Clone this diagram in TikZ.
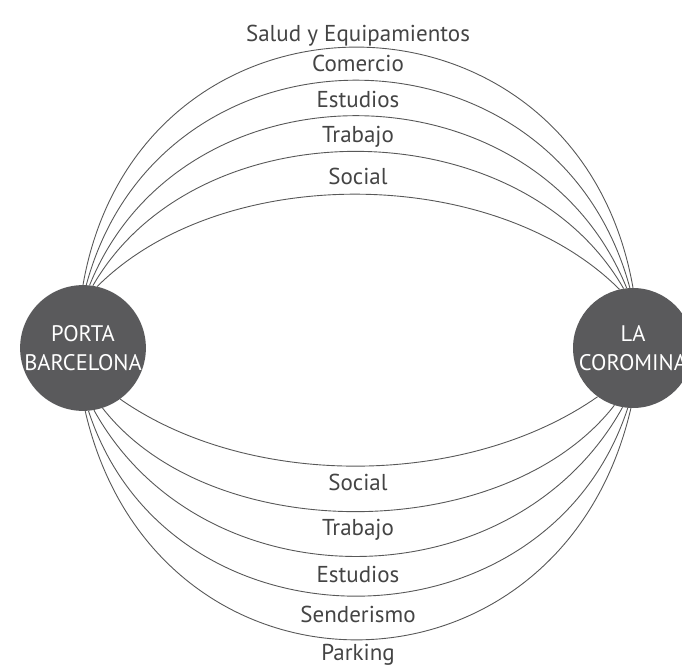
\documentclass[tikz,border=0pt]{standalone}
\usepackage{fontspec}
\setmainfont{PT Sans}
\usepackage{xcolor}
\usetikzlibrary{positioning}

\definecolor{hubgray}{HTML}{5A5A5C}
\definecolor{linkgray}{HTML}{585858}
\definecolor{labelgray}{HTML}{444444}

\tikzset{
    hub/.style={circle, fill=hubgray, minimum size=120pt, inner sep=0pt,
        text=white, align=center, font=\fontsize{22.5}{29}\selectfont},
    link/.style={draw=linkgray, line width=0.9pt},
    purpose/.style={anchor=base, inner sep=0pt, text=labelgray,
        font=\fontsize{23}{26}\selectfont}
}

\begin{document}
\begin{tikzpicture}[x=1pt, y=-1pt]
    \useasboundingbox (0,0) rectangle (682,671);

    % the two neighbourhoods
    \node[hub] (pb) at (83,348) {PORTA\\BARCELONA};
    \node[hub] (lc) at (633,348) {LA\\COROMINA};

    % trips over the top
    \draw[link] (pb.90) .. controls +(56,-319) and +(-56,-319) .. (lc.90);
    \draw[link] (pb.87) .. controls +(74,-275) and +(-74,-275) .. (lc.93);
    \draw[link] (pb.84) .. controls +(92,-228) and +(-92,-228) .. (lc.96);
    \draw[link] (pb.81) .. controls +(104,-181) and +(-104,-181) .. (lc.99);
    \draw[link] (pb.77) .. controls +(125,-125) and +(-125,-125) .. (lc.103);

    \node[purpose] (up1) at (358,42) {Salud y Equipamientos};
    \node[purpose] (up2) at (358,72) {Comercio};
    \node[purpose] (up3) at (358,108) {Estudios};
    \node[purpose] (up4) at (358,143) {Trabajo};
    \node[purpose] (up5) at (358,185) {Social};

    % trips underneath
    \draw[link] (pb.-54) .. controls +(130,91) and +(-130,91) .. (lc.-126);
    \draw[link] (pb.-72) .. controls +(109,140) and +(-109,140) .. (lc.-108);
    \draw[link] (pb.-80) .. controls +(109,197) and +(-109,197) .. (lc.-100);
    \draw[link] (pb.-85) .. controls +(81,249) and +(-81,249) .. (lc.-95);
    \draw[link] (pb.-88) .. controls +(71,307) and +(-71,307) .. (lc.-92);

    \node[purpose] (dn1) at (358,490) {Social};
    \node[purpose] (dn2) at (358,535) {Trabajo};
    \node[purpose] (dn3) at (358,582) {Estudios};
    \node[purpose] (dn4) at (358,622) {Senderismo};
    \node[purpose] (dn5) at (358,660) {Parking};
\end{tikzpicture}
\end{document}
